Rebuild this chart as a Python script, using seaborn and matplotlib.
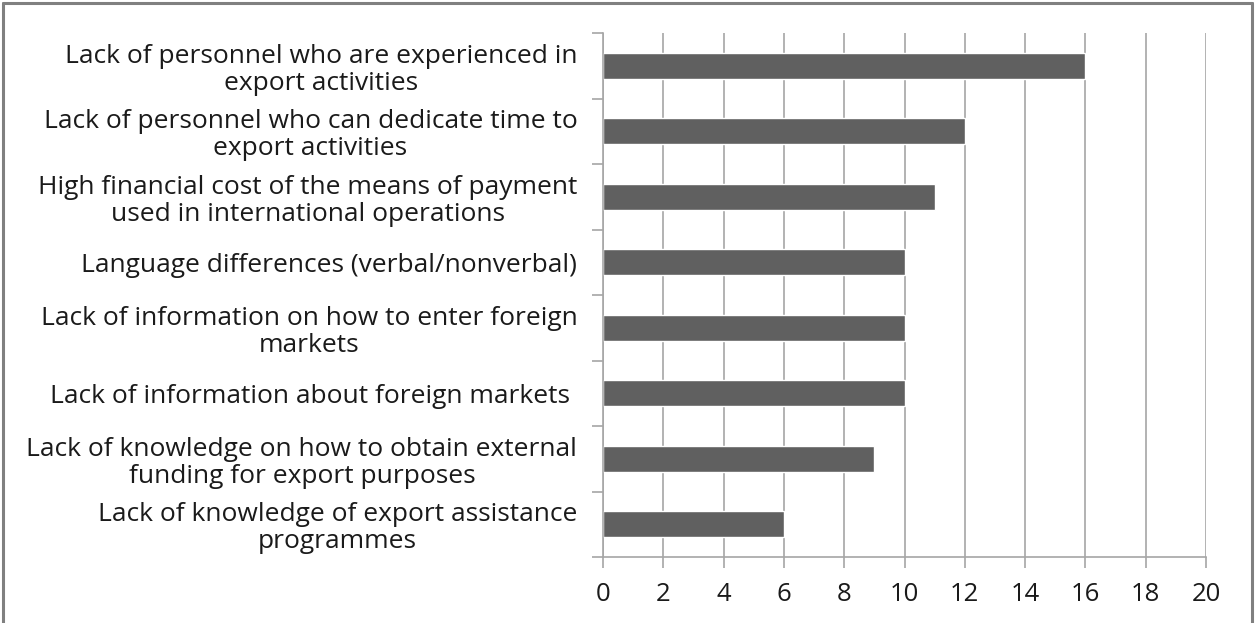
import matplotlib
matplotlib.use("Agg")
import matplotlib.pyplot as plt
import seaborn as sns
import pandas as pd
from matplotlib.lines import Line2D

categories = [
    "Lack of personnel who are experienced in\nexport activities",
    "Lack of personnel who can dedicate time to\nexport activities",
    "High financial cost of the means of payment\nused in international operations",
    "Language differences (verbal/nonverbal)",
    "Lack of information on how to enter foreign\nmarkets",
    "Lack of information about foreign markets ",
    "Lack of knowledge on how to obtain external\nfunding for export purposes",
    "Lack of knowledge of export assistance\nprogrammes",
]
values = [16, 12, 11, 10, 10, 10, 9, 6]
x_ticks = [0, 2, 4, 6, 8, 10, 12, 14, 16, 18, 20]

df = pd.DataFrame({"barrier": categories, "count": values})

sns.set_theme(style="white")
plt.rcParams["font.family"] = ["Open Sans", "DejaVu Sans"]

fig = plt.figure(figsize=(12.55, 6.23), dpi=100)
ax = fig.add_axes([603 / 1255, 1 - 557 / 623, (1206 - 603) / 1255, (557 - 33) / 623])

sns.barplot(data=df, y="barrier", x="count", orient="h", color="#606060",
            saturation=1, width=0.4, ax=ax, order=categories)

grid_c = "#A6A6A6"
ax.set_xlim(0, 20)
ax.set_ylim(len(categories) - 0.5, -0.5)
ax.set_xticks(x_ticks)
ax.set_xticklabels([str(t) for t in x_ticks])
ax.xaxis.grid(True, color=grid_c, linewidth=1.2)
ax.set_axisbelow(True)
ax.set_xlabel("")
ax.set_ylabel("")

for side in ["top", "right"]:
    ax.spines[side].set_visible(False)
for side in ["left", "bottom"]:
    ax.spines[side].set_color(grid_c)
    ax.spines[side].set_linewidth(1.2)

# category boundary ticks on the y axis
ax.set_yticks(range(len(categories)))
ax.set_yticklabels(categories)
ax.set_yticks([i - 0.5 for i in range(len(categories) + 1)], minor=True)
ax.tick_params(axis="y", which="major", length=0, pad=18.5, labelsize=19, labelcolor="#1a1a1a")
ax.tick_params(axis="y", which="minor", length=8, width=1.2, color=grid_c, left=True)
ax.tick_params(axis="x", which="major", length=8, width=1.2, color=grid_c, bottom=True,
               pad=10, labelsize=18.5, labelcolor="#1a1a1a")
for t in ax.get_yticklabels():
    t.set_multialignment("center")
    t.set_linespacing(1.1)

# outer frame
frame_c = "#808080"
fig.add_artist(Line2D([3 / 1255, 3 / 1255], [0, 1 - 3 / 623], transform=fig.transFigure,
                      color=frame_c, linewidth=2.2))
fig.add_artist(Line2D([3 / 1255, 1252 / 1255], [1 - 3 / 623, 1 - 3 / 623], transform=fig.transFigure,
                      color=frame_c, linewidth=2.2))
fig.add_artist(Line2D([1252 / 1255, 1252 / 1255], [0, 1 - 3 / 623], transform=fig.transFigure,
                      color=frame_c, linewidth=2.2))

fig.savefig("out.png", dpi=100, facecolor="white")
